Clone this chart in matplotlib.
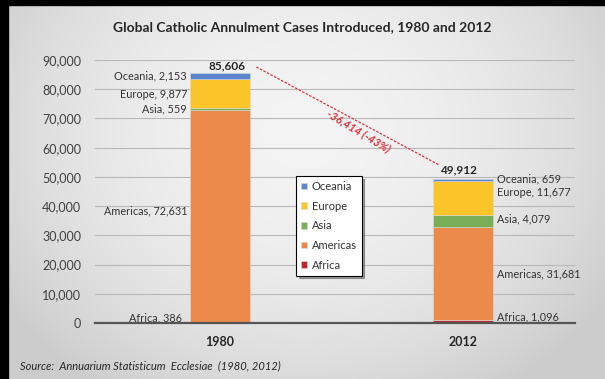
import numpy as np
import matplotlib
matplotlib.use("Agg")
import matplotlib.pyplot as plt
from matplotlib.patches import Rectangle

plt.rcParams['font.family'] = ['Lato', 'DejaVu Sans']

years = ["1980", "2012"]
regions = ["Africa", "Americas", "Asia", "Europe", "Oceania"]
africa = [386, 1096]
americas = [72631, 31681]
asia = [559, 4079]
europe = [9877, 11677]
oceania = [2153, 659]
totals = [85606, 49912]
change_label = "-36,414 (-43%)"
colors = {"Africa": "#C0272D", "Americas": "#EC8A4B", "Asia": "#78AE55",
          "Europe": "#FBC52A", "Oceania": "#5B85CC"}
series = {"Africa": africa, "Americas": americas, "Asia": asia,
          "Europe": europe, "Oceania": oceania}

W, H = 605, 379
fig = plt.figure(figsize=(W/100, H/100), dpi=100)

# background gradient
bg = fig.add_axes([0, 0, 1, 1])
yy, xx = np.mgrid[0:H, 0:W]
d = np.sqrt(((xx - W*0.5)/(W*0.55))**2 + ((yy - H*0.35)/(H*0.75))**2)
g = np.clip(0.955 - 0.13*d**2, 0.80, 1)
bg.imshow(np.dstack([g, g, g]), aspect='auto', extent=[0, W, H, 0])
bg.add_patch(Rectangle((0, 0), 8, H, color='black'))
bg.add_patch(Rectangle((0, 0), W, 5, color='black'))
bg.set_xlim(0, W); bg.set_ylim(H, 0)
bg.axis('off')

ax = fig.add_axes([95/W, (H-323)/H, 480/W, (323-60)/H])
ax.set_facecolor('none')
x = np.array([0.0, 1.0])
width = 0.246
bottom = np.zeros(2)
handles = {}
for r in regions:
    vals = np.array(series[r], dtype=float)
    b = ax.bar(x, vals, width, bottom=bottom, color=colors[r], label=r, zorder=3,
               edgecolor='#d9d9d9', linewidth=0.4)
    handles[r] = b
    bottom += vals

ax.set_xlim(-0.513, 1.459)
ax.set_ylim(0, 90000)
ax.set_yticks(np.arange(0, 90001, 10000))
ax.set_yticklabels([f"{v:,}" for v in range(0, 90001, 10000)], fontsize=9, color='#404040')
ax.tick_params(axis='y', length=0, pad=10)
ax.set_xticks(x)
ax.set_xticklabels(years, fontsize=9, fontweight='bold', color='#262626')
ax.tick_params(axis='x', length=0, pad=9)
ax.grid(axis='y', color='#b8b8b8', linewidth=0.8, zorder=0)
for s in ['top', 'right', 'left']:
    ax.spines[s].set_visible(False)
ax.spines['bottom'].set_color('#555555')
ax.spines['bottom'].set_linewidth(1.6)
ax.spines['bottom'].set_zorder(4)

fs = 7.8
tc = '#333333'
# 1980 labels (left)
lx = x[0] - width/2 - 0.012
ax.text(lx, 84700, f"Oceania, {oceania[0]:,}", ha='right', va='center', fontsize=fs, color=tc)
ax.text(lx, 78300, f"Europe, {europe[0]:,}", ha='right', va='center', fontsize=fs, color=tc)
ax.text(lx, 73100, f"Asia, {asia[0]:,}", ha='right', va='center', fontsize=fs, color=tc)
ax.text(lx, 38200, f"Americas, {americas[0]:,}", ha='right', va='center', fontsize=fs, color=tc)
ax.text(lx - 0.02, 1900, f"Africa, {africa[0]:,}", ha='right', va='center', fontsize=fs, color=tc)
# 2012 labels (right)
rx = x[1] + width/2 + 0.015
ax.text(rx, 49300, f"Oceania, {oceania[1]:,}", ha='left', va='center', fontsize=fs, color=tc)
ax.text(rx, 44700, f"Europe, {europe[1]:,}", ha='left', va='center', fontsize=fs, color=tc)
ax.text(rx, 35500, f"Asia, {asia[1]:,}", ha='left', va='center', fontsize=fs, color=tc)
ax.text(rx, 16800, f"Americas, {americas[1]:,}", ha='left', va='center', fontsize=fs, color=tc)
ax.text(rx, 2000, f"Africa, {africa[1]:,}", ha='left', va='center', fontsize=fs, color=tc)
# totals
ax.text(x[0] + 0.03, totals[0] + 2300, f"{totals[0]:,}", ha='center', va='center',
        fontsize=8.5, fontweight='bold', color='#262626', zorder=5)
ax.text(x[1] - 0.02, totals[1] + 2600, f"{totals[1]:,}", ha='center', va='center',
        fontsize=8.5, fontweight='bold', color='#262626', zorder=5)
# dashed change line
ax.plot([x[0] + 0.15, x[1] - 0.1], [totals[0] + 2000, totals[1] + 4200], ls=(0, (2, 1.2)),
        color='#E0303A', lw=0.9, zorder=5)
ax.text(0.57, 65800, change_label, ha='center', va='center', rotation=-31,
        fontsize=8, fontweight='bold', fontstyle='italic', color='#E0303A', zorder=5)

# legend
order = ["Oceania", "Europe", "Asia", "Americas", "Africa"]
leg = ax.legend([handles[r] for r in order], order, loc='upper left',
                bbox_to_anchor=((296-95)/480, (323-176)/263), fontsize=8,
                frameon=True, fancybox=False, shadow=True, handlelength=0.55,
                handleheight=0.55, handletextpad=0.4, labelspacing=0.78,
                borderpad=0.45, borderaxespad=0, edgecolor='black', framealpha=1)
leg.get_frame().set_linewidth(0.8)
leg.set_zorder(6)
for t in leg.get_texts():
    t.set_color('#333333')

fig.text(0.5, (H-27)/H, "Global Catholic Annulment Cases Introduced, 1980 and 2012",
         ha='center', va='center', fontsize=10, fontweight='bold', color='#262626')
fig.text(20/W, (H-366)/H, "Source:  Annuarium Statisticum  Ecclesiae  (1980, 2012)",
         ha='left', va='center', fontsize=8, fontstyle='italic', color='#262626')

fig.savefig("out.png", dpi=100)
